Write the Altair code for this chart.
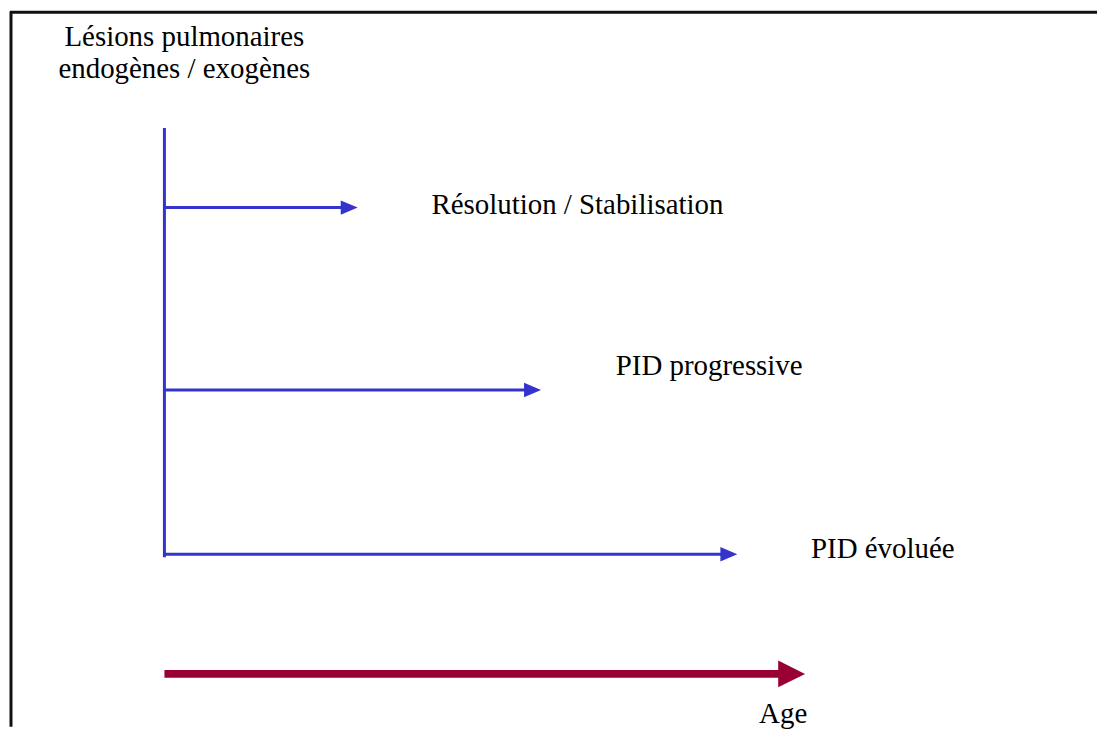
import altair as alt
import pandas as pd

# Diagram coordinates (pixel-like units, origin top-left)
branch_labels = ["Résolution / Stabilisation", "PID progressive", "PID évoluée"]
branch_y = [205, 388, 553]
branch_tip_x = [357, 541, 738]
label_x = [431, 616, 812]
label_y = [211, 373, 557]

trunk_x = 163
trunk_y = [125, 556]

age_y = 673
age_x = [163, 806]

title_lines = ["Lésions pulmonaires", "endogènes / exogènes"]
title_y = [43, 75]
title_x = 183

BLUE = "#3434cc"
RED = "#990033"
FONT = "Liberation Serif"
FS = 29

W, H = 1091, 718
xs = alt.Scale(domain=[8, 8 + W], nice=False, zero=False)
ys = alt.Scale(domain=[8, 8 + H], nice=False, zero=False, reverse=True)
X = lambda f: alt.X(f, type="quantitative", scale=xs, axis=None)
Y = lambda f: alt.Y(f, type="quantitative", scale=ys, axis=None)
X2 = lambda f: alt.X2(f)
Y2 = lambda f: alt.Y2(f)

# frame (top and left)
frame_top = alt.Chart(pd.DataFrame({"x": [8], "x2": [8 + W], "y": [9]})).mark_rule(
    color="#111111", strokeWidth=3).encode(x=X("x"), x2=X2("x2"), y=Y("y"))
frame_left = alt.Chart(pd.DataFrame({"x": [9], "y": [8], "y2": [8 + H]})).mark_rule(
    color="#111111", strokeWidth=3).encode(x=X("x"), y=Y("y"), y2=Y2("y2"))

trunk = alt.Chart(pd.DataFrame({"x": [trunk_x], "y": [trunk_y[0]], "y2": [trunk_y[1]]})).mark_rule(
    color=BLUE, strokeWidth=3).encode(x=X("x"), y=Y("y"), y2=Y2("y2"))

bdf = pd.DataFrame({
    "x": [trunk_x] * 3,
    "x2": [t - 10 for t in branch_tip_x],
    "tip": branch_tip_x,
    "y": branch_y,
})
branches = alt.Chart(bdf).mark_rule(color=BLUE, strokeWidth=3).encode(
    x=X("x"), x2=X2("x2"), y=Y("y"))
heads = alt.Chart(bdf).mark_point(
    shape="M -2 -0.85 L 0 0 L -2 0.85 Z", filled=True, opacity=1,
    color=BLUE, size=290, strokeWidth=0).encode(x=X("tip"), y=Y("y"))

adf = pd.DataFrame({"x": [age_x[0]], "x2": [age_x[1] - 20], "tip": [age_x[1]], "y": [age_y]})
age_line = alt.Chart(adf).mark_rule(color=RED, strokeWidth=8).encode(
    x=X("x"), x2=X2("x2"), y=Y("y"))
age_head = alt.Chart(adf).mark_point(
    shape="M -2 -1 L 0 0 L -2 1 Z", filled=True, opacity=1,
    color=RED, size=729, strokeWidth=0).encode(x=X("tip"), y=Y("y"))

ldf = pd.DataFrame({"label": branch_labels, "x": label_x, "y": label_y})
labels = alt.Chart(ldf).mark_text(
    align="left", baseline="alphabetic", font=FONT, fontSize=FS, color="black").encode(
    x=X("x"), y=Y("y"), text="label:N")

tdf = pd.DataFrame({"label": title_lines, "x": [title_x] * 2, "y": title_y})
title = alt.Chart(tdf).mark_text(
    align="center", baseline="alphabetic", font=FONT, fontSize=FS, color="black").encode(
    x=X("x"), y=Y("y"), text="label:N")

age_df = pd.DataFrame({"label": ["Age"], "x": [784], "y": [722]})
age_lbl = alt.Chart(age_df).mark_text(
    align="center", baseline="alphabetic", font=FONT, fontSize=FS, color="black").encode(
    x=X("x"), y=Y("y"), text="label:N")

chart = alt.layer(
    frame_top, frame_left, trunk, branches, heads, age_line, age_head, labels, title, age_lbl
).properties(width=W, height=H, padding=0).configure_view(stroke=None)

chart.save("out.html", embed_options={"renderer": "svg", "actions": False})
